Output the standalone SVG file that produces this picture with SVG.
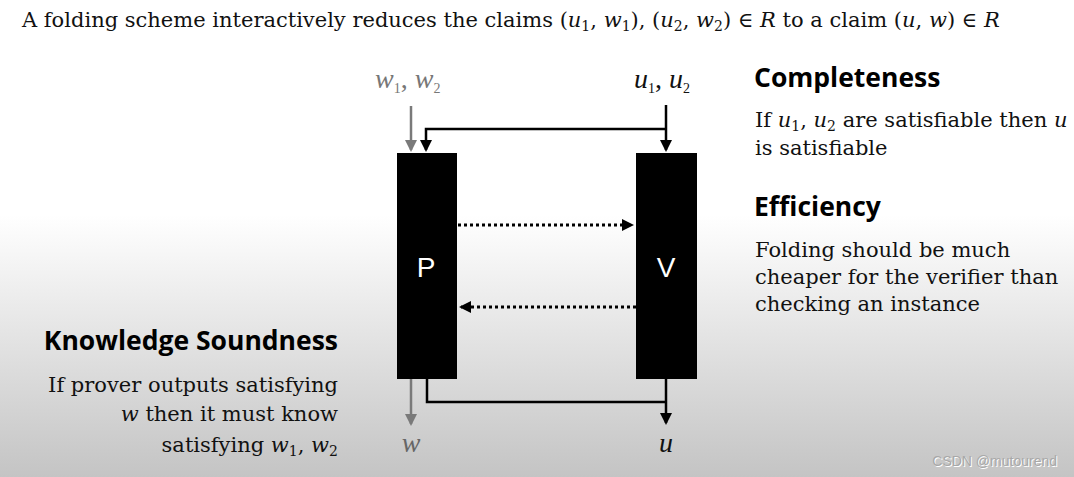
<svg xmlns="http://www.w3.org/2000/svg" width="1074" height="477" viewBox="0 0 1074 477">
<defs>
<linearGradient id="bg" x1="0" y1="0" x2="0" y2="1">
<stop offset="0" stop-color="#ffffff"/>
<stop offset="0.45" stop-color="#ffffff"/>
<stop offset="1" stop-color="#c4c4c4"/>
</linearGradient>
<marker id="ab" markerWidth="14" markerHeight="14" refX="10" refY="6" orient="auto" markerUnits="userSpaceOnUse">
<path d="M0,0 L12,6 L0,12 Z" fill="#000"/>
</marker>
<marker id="ag" markerWidth="14" markerHeight="14" refX="10" refY="6" orient="auto" markerUnits="userSpaceOnUse">
<path d="M0,0 L12,6 L0,12 Z" fill="#7a7a7a"/>
</marker>
</defs>
<style>
.serif{font-family:"DejaVu Serif","Liberation Serif",serif;}
.t{font-size:21px;fill:#111;}
.m{font-style:italic;}
.sub{font-size:14px;font-style:normal;}
.h{font-family:"Open Sans","Noto Sans",sans-serif;font-weight:bold;font-size:26.5px;fill:#000;}
.lbl{font-family:"Liberation Serif","DejaVu Serif",serif;font-style:italic;font-size:28px;}
.box{fill:#000;}
.bt{font-family:"Liberation Sans","Noto Sans",sans-serif;font-size:28px;fill:#fff;text-anchor:middle;}
.c{fill:none;stroke:#000;stroke-width:2.5;}
.g{fill:none;stroke:#7a7a7a;stroke-width:2.5;}
.d{fill:none;stroke:#000;stroke-width:3;stroke-dasharray:3,3;}
</style>
<rect width="1074" height="477" fill="url(#bg)"/>

<text class="serif t" x="22" y="27">A folding scheme interactively reduces the claims (<tspan class="m">u</tspan><tspan class="sub" dy="4">1</tspan><tspan dy="-4">, </tspan><tspan class="m">w</tspan><tspan class="sub" dy="4">1</tspan><tspan dy="-4">), (</tspan><tspan class="m">u</tspan><tspan class="sub" dy="4">2</tspan><tspan dy="-4">, </tspan><tspan class="m">w</tspan><tspan class="sub" dy="4">2</tspan><tspan dy="-4">) ∈ </tspan><tspan class="m">R</tspan> to a claim (<tspan class="m">u</tspan>, <tspan class="m">w</tspan>) ∈ <tspan class="m">R</tspan></text>

<g id="P">
<rect class="box" x="397" y="153" width="60" height="226"/>
<text class="bt" x="426" y="277">P</text>
</g>
<g id="V">
<rect class="box" x="636" y="153" width="61" height="226"/>
<text class="bt" x="666" y="277">V</text>
</g>

<g id="labels">
<text class="lbl" x="375" y="88" fill="#777">w<tspan class="sub" font-size="18" dy="5">1</tspan><tspan font-style="normal" dy="-5">, </tspan>w<tspan class="sub" font-size="18" dy="5">2</tspan></text>
<text class="lbl" x="634" y="88" fill="#111">u<tspan class="sub" font-size="18" dy="5">1</tspan><tspan font-style="normal" dy="-5">, </tspan>u<tspan class="sub" font-size="18" dy="5">2</tspan></text>
<text class="lbl" x="411" y="452" fill="#666" text-anchor="middle">w</text>
<text class="lbl" x="666" y="452" fill="#111" text-anchor="middle">u</text>
</g>

<g id="connectors">
<line class="g" x1="411" y1="106" x2="411" y2="150" marker-end="url(#ag)"/>
<line class="c" x1="666" y1="105" x2="666" y2="150" marker-end="url(#ab)"/>
<polyline class="c" points="666,129 426,129 426,150" marker-end="url(#ab)"/>
<line class="d" x1="458" y1="225" x2="632" y2="225" marker-end="url(#ab)"/>
<line class="d" x1="636" y1="307" x2="461" y2="307" marker-end="url(#ab)"/>
<line class="g" x1="411" y1="379" x2="411" y2="424" marker-end="url(#ag)"/>
<polyline class="c" points="427,379 427,402 666,402"/>
<line class="c" x1="666" y1="379" x2="666" y2="423" marker-end="url(#ab)"/>
</g>

<g id="completeness">
<text class="h" x="754" y="87">Completeness</text>
<text class="serif t" x="755" y="127">If <tspan class="m">u</tspan><tspan class="sub" dy="4">1</tspan><tspan dy="-4">, </tspan><tspan class="m">u</tspan><tspan class="sub" dy="4">2</tspan><tspan dy="-4"> are satisfiable then </tspan><tspan class="m">u</tspan></text>
<text class="serif t" x="755" y="155">is satisfiable</text>
</g>
<g id="efficiency">
<text class="h" x="754" y="216">Efficiency</text>
<text class="serif t" x="755" y="257">Folding should be much</text>
<text class="serif t" x="755" y="284">cheaper for the verifier than</text>
<text class="serif t" x="755" y="311">checking an instance</text>
</g>
<g id="soundness">
<text class="h" x="338" y="350" text-anchor="end">Knowledge Soundness</text>
<text class="serif t" x="338" y="392" text-anchor="end">If prover outputs satisfying</text>
<text class="serif t" x="338" y="421" text-anchor="end"><tspan class="m">w</tspan> then it must know</text>
<text class="serif t" x="338" y="452" text-anchor="end">satisfying <tspan class="m">w</tspan><tspan class="sub" dy="4">1</tspan><tspan dy="-4">, </tspan><tspan class="m">w</tspan><tspan class="sub" dy="4">2</tspan></text>
</g>

<text x="1058" y="467" text-anchor="end" font-family="Liberation Sans,Arial,sans-serif" font-size="14" fill="#fff">CSDN @mutourend</text>
<text x="1057" y="466" text-anchor="end" font-family="Liberation Sans,Arial,sans-serif" font-size="14" fill="#a8a8a8">CSDN @mutourend</text>
</svg>
